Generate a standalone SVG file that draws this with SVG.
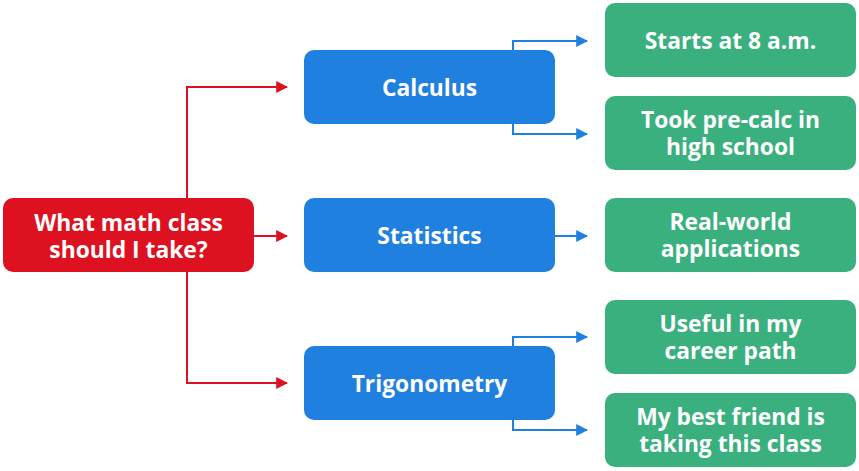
<svg xmlns="http://www.w3.org/2000/svg" width="859" height="471" viewBox="0 0 859 471">
<defs>
<style>
.root{fill:#DE1120}
.mid{fill:#1F80E0}
.leaf{fill:#3BB07F}
text{font-family:"Open Sans",Lato,sans-serif;font-weight:700;font-size:22.8px;fill:#fff;text-anchor:middle;dominant-baseline:central}
.r{stroke:#DE1120;stroke-width:2;fill:none}
.b{stroke:#1F80E0;stroke-width:2;fill:none}
</style>
<marker id="ar" viewBox="0 0 10 10" refX="9" refY="5" markerWidth="12" markerHeight="12" markerUnits="userSpaceOnUse" orient="auto"><path d="M0,0 L10,5 L0,10 z" fill="#DE1120"/></marker>
<marker id="ab" viewBox="0 0 10 10" refX="9" refY="5" markerWidth="12" markerHeight="12" markerUnits="userSpaceOnUse" orient="auto"><path d="M0,0 L10,5 L0,10 z" fill="#1F80E0"/></marker>
</defs>
<g id="connectors">
<path class="r" d="M187,198 V87 H287" marker-end="url(#ar)"/>
<path class="r" d="M254,236 H287" marker-end="url(#ar)"/>
<path class="r" d="M187,272 V383 H287" marker-end="url(#ar)"/>
<path class="b" d="M513,50 V41 H587" marker-end="url(#ab)"/>
<path class="b" d="M513,124 V134 H587" marker-end="url(#ab)"/>
<path class="b" d="M555,236 H587" marker-end="url(#ab)"/>
<path class="b" d="M513,346 V337 H587" marker-end="url(#ab)"/>
<path class="b" d="M513,420 V430 H587" marker-end="url(#ab)"/>
</g>
<g id="root"><rect class="root" x="3" y="198" width="251" height="74" rx="10"/><text><tspan x="128.5" y="222">What math class</tspan><tspan x="128.5" y="249">should I take?</tspan></text></g>
<g id="calculus"><rect class="mid" x="304" y="50" width="251" height="74" rx="10"/><text x="429.5" y="87">Calculus</text></g>
<g id="statistics"><rect class="mid" x="304" y="198" width="251" height="74" rx="10"/><text x="429.5" y="235">Statistics</text></g>
<g id="trigonometry"><rect class="mid" x="304" y="346" width="251" height="74" rx="10"/><text x="429.5" y="383">Trigonometry</text></g>
<g id="starts"><rect class="leaf" x="605" y="3" width="251" height="74" rx="10"/><text x="730.5" y="40">Starts at 8 a.m.</text></g>
<g id="precalc"><rect class="leaf" x="605" y="96" width="251" height="74" rx="10"/><text><tspan x="730.5" y="119">Took pre-calc in</tspan><tspan x="730.5" y="146">high school</tspan></text></g>
<g id="realworld"><rect class="leaf" x="605" y="198" width="251" height="74" rx="10"/><text><tspan x="730.5" y="221">Real-world</tspan><tspan x="730.5" y="248">applications</tspan></text></g>
<g id="career"><rect class="leaf" x="605" y="300" width="251" height="74" rx="10"/><text><tspan x="730.5" y="323">Useful in my</tspan><tspan x="730.5" y="350">career path</tspan></text></g>
<g id="friend"><rect class="leaf" x="605" y="393" width="251" height="74" rx="10"/><text><tspan x="730.5" y="416">My best friend is</tspan><tspan x="730.5" y="443">taking this class</tspan></text></g>
</svg>
